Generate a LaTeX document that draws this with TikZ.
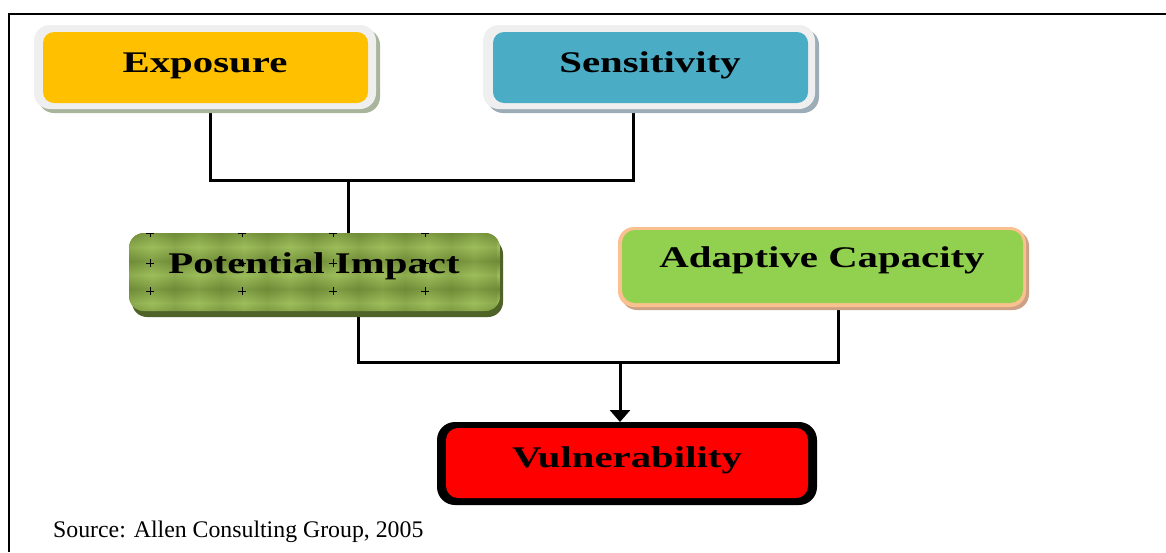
\documentclass[tikz,border=0pt]{standalone}
\usepackage{graphicx}
\usepackage{fontspec}
\setmainfont{Liberation Serif}
\usetikzlibrary{arrows.meta,backgrounds}

\definecolor{rimGray}{HTML}{EFEFEF}
\definecolor{expoFill}{HTML}{FFC000}
\definecolor{expoShade}{HTML}{A8B49B}
\definecolor{sensFill}{HTML}{4BACC6}
\definecolor{sensShade}{HTML}{9CADB8}
\definecolor{potBase}{HTML}{809E45}
\definecolor{potLight}{HTML}{9DBD5B}
\definecolor{potDark}{HTML}{6F8B37}
\definecolor{potShade}{HTML}{4F6228}
\definecolor{adaRim}{HTML}{FAC08F}
\definecolor{adaFill}{HTML}{92D050}
\definecolor{adaShade}{HTML}{CDA284}
\definecolor{vulFill}{HTML}{FF0000}

\newcommand\widetext[1]{\scalebox{1.36}[1]{#1}}

\begin{document}
\begin{tikzpicture}[x=1pt,y=-1pt,
  boxshape/.style={rectangle, draw=none, inner sep=0pt, outer sep=0pt},
  title/.style={anchor=base, inner sep=0pt,
    font=\bfseries\fontsize{30}{36}\selectfont},
  conn/.style={draw=black, line width=3pt},
]
\useasboundingbox (0,0) rectangle (1166,552);

% page frame (top and left rules)
\draw[line width=2pt] (1166,14) -- (9,14) -- (9,552);

% ---------- Exposure ----------
\fill[expoShade, rounded corners=16] (38,29) rectangle (380,113);
\node[boxshape, fill=rimGray, rounded corners=16,
      minimum width=342, minimum height=84] (expo) at (205,67) {};
\fill[expoFill, rounded corners=11] (43,32) rectangle (368,103);
\node[title] (expoT) at (205,72) {\widetext{Exposure}};

% ---------- Sensitivity ----------
\fill[sensShade, rounded corners=16] (487,29) rectangle (819,113);
\node[boxshape, fill=rimGray, rounded corners=16,
      minimum width=332, minimum height=84] (sens) at (649,67) {};
\fill[sensFill, rounded corners=11] (493,32) rectangle (808,103);
\node[title] (sensT) at (650,72) {\widetext{Sensitivity}};

% ---------- Potential Impact ----------
\fill[potShade, rounded corners=15] (132,239) rectangle (503,317);
\node[boxshape, minimum width=371, minimum height=78] (pot) at (314.5,272) {};
\begin{scope}
  \clip[rounded corners=15] (129,233) rectangle (500,311);
  \fill[potBase] (129,233) rectangle (500,311);
  \foreach \y in {233,261,289} {
    \shade[top color=potDark, bottom color=potLight] (129,\y) rectangle (500,\y+14);
    \shade[top color=potLight, bottom color=potDark] (129,\y+14) rectangle (500,\y+28);
  }
  \foreach \x in {129,175,221,267,313,359,405,451} {
    \shade[left color=potDark, right color=potLight, opacity=0.35]
      (\x,233) rectangle (\x+23,311);
    \shade[left color=potLight, right color=potDark, opacity=0.35]
      (\x+23,233) rectangle (\x+46,311);
  }
  \foreach \x in {150,242,333,425} {
    \foreach \y in {233,263,291} {
      \draw[line width=0.8pt] (\x-4,\y) -- (\x+4,\y) (\x,\y-4) -- (\x,\y+4);
    }
  }
\end{scope}
\node[title] (potT) at (314,273) {\widetext{Potential Impact}};

% ---------- Adaptive Capacity ----------
\fill[adaShade, rounded corners=16] (621,230) rectangle (1029,310);
\node[boxshape, fill=adaRim, rounded corners=16,
      minimum width=408, minimum height=80] (ada) at (822,267) {};
\fill[adaFill, rounded corners=13] (622,230) rectangle (1023,303);
\node[title] (adaT) at (822,267) {\widetext{Adaptive Capacity}};

% ---------- Vulnerability ----------
\node[boxshape, fill=black, rounded corners=18,
      minimum width=380, minimum height=83] (vul) at (627,463.5) {};
\fill[vulFill, rounded corners=12] (446,428) rectangle (808,498);
\node[title] (vulT) at (627,467) {\widetext{Vulnerability}};

% ---------- connectors (behind the boxes) ----------
\coordinate (jA) at (210,180);
\coordinate (jB) at (633,180);
\coordinate (jC) at (348,180);
\coordinate (jD) at (358,362);
\coordinate (jE) at (838,362);
\coordinate (jF) at (620,362);
\begin{scope}[on background layer]
  \fill[white] (0,0) rectangle (1166,552);
  \draw[conn] (jA |- expo.south) -- (jA) -- (jB) -- (jB |- sens.south);
  \draw[conn] (jC) -- (jC |- pot.north);
  \draw[conn] (jD |- pot.south) -- (jD) -- (jE) -- (jE |- ada.south);
\end{scope}
\draw[conn, -{Triangle[width=20pt,length=12pt]}] (jF) -- (jF |- vul.north);

% ---------- source line ----------
\node[anchor=base west, inner sep=0pt, font=\fontsize{23.8}{28}\selectfont]
  (src) at (53,537) {Source: Allen Consulting Group, 2005};
\end{tikzpicture}
\end{document}
